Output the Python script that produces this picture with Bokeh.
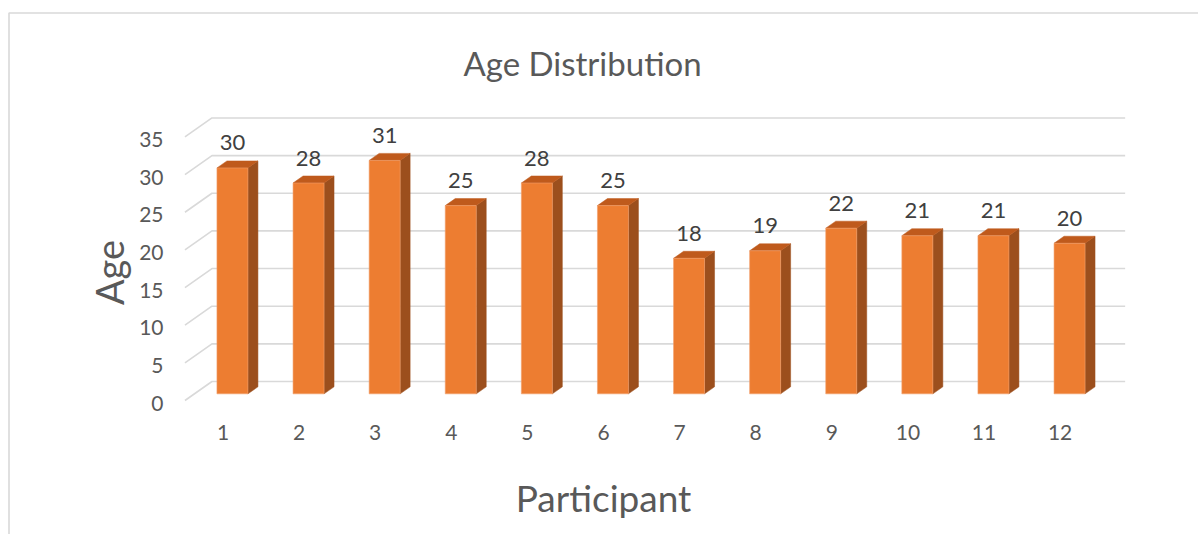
import math

from bokeh.core.properties import value
from bokeh.embed import file_html
from bokeh.models import Range1d
from bokeh.plotting import figure
from bokeh.resources import INLINE

# ---- data ----
participants = [1, 2, 3, 4, 5, 6, 7, 8, 9, 10, 11, 12]
ages = [30, 28, 31, 25, 28, 25, 18, 19, 22, 21, 21, 20]
age_ticks = [0, 5, 10, 15, 20, 25, 30, 35]
title_text = "Age Distribution"
x_title = "Participant"
y_title = "Age"

# ---- page geometry (pixels) ----
W, H = 1198, 534
X1_PX = 222.5        # screen x of participant 1 on the front edge of the floor
PX_PER_X = 76.1      # pixels per participant
Y0_PX = 400.0        # screen y of age 0 on the front edge of the floor
PX_PER_Y = 7.53      # pixels per year

FONT = value("Lato")
FRONT = "#ED7D31"
SIDE = "#9C4F1D"
TOP = "#BF5A1C"
GRID = "#D9D9D9"
TEXT = "#595959"
VALUE_TEXT = "#404040"


def px2x(px):
    return 1 + (px - X1_PX) / PX_PER_X


def py2y(py):
    return (Y0_PX - py) / PX_PER_Y


# oblique projection of the depth axis (front of floor -> back wall)
DX = 27.0 / PX_PER_X
DY = 19.0 / PX_PER_Y
Z_FRONT, Z_BACK = 0.35, 0.72   # depth slice occupied by the columns
HALF_W = 0.5 * 31.0 / PX_PER_X  # half column width

p = figure(
    width=W, height=H,
    x_range=Range1d(px2x(0), px2x(W)),
    y_range=Range1d(py2y(H), py2y(0)),
    x_axis_location=None, y_axis_location=None,
    toolbar_location=None, output_backend="svg",
    min_border=0, outline_line_color=None,
)
p.grid.visible = False
p.background_fill_color = "white"
p.border_fill_color = "white"

# chart-area border (top and left edges)
p.line([px2x(8.5), px2x(8.5), px2x(W + 2)], [py2y(H + 2), py2y(12.5), py2y(12.5)],
       line_color=GRID, line_width=1.6)

# floor categories span 0.5 .. 12.5
x_lo = participants[0] - 0.5
x_hi = participants[-1] + 0.5

# side-wall diagonals and back-wall gridlines
gx, gy = [], []
for t in age_ticks:
    gx.append([x_lo, x_lo + DX, x_hi + DX])
    gy.append([t, t + DY, t + DY])
p.multi_line(gx, gy, line_color=GRID, line_width=1.6)

# 3D columns: side, top, front faces
side_xs, side_ys, top_xs, top_ys, front_xs, front_ys = [], [], [], [], [], []
for xi, v in zip(participants, ages):
    xl = xi - HALF_W
    xr = xi + HALF_W
    fdx, fdy = Z_FRONT * DX, Z_FRONT * DY
    bdx, bdy = Z_BACK * DX, Z_BACK * DY
    side_xs.append([xr + fdx, xr + bdx, xr + bdx, xr + fdx])
    side_ys.append([fdy, bdy, v + bdy, v + fdy])
    top_xs.append([xl + fdx, xr + fdx, xr + bdx, xl + bdx])
    top_ys.append([v + fdy, v + fdy, v + bdy, v + bdy])
    front_xs.append([xl + fdx, xr + fdx, xr + fdx, xl + fdx])
    front_ys.append([fdy, fdy, v + fdy, v + fdy])

p.patches(side_xs, side_ys, fill_color=SIDE, line_color=SIDE, line_width=0.5)
p.patches(top_xs, top_ys, fill_color=TOP, line_color=TOP, line_width=0.5)
p.patches(front_xs, front_ys, fill_color=FRONT, line_color="#F2A06B", line_width=0.6)

# value labels above each column
p.text(
    x=[xi + Z_FRONT * DX for xi in participants],
    y=[v + Z_FRONT * DY + 25.0 / PX_PER_Y for v in ages],
    text=[str(v) for v in ages],
    text_font=FONT, text_font_size="22px", text_color=VALUE_TEXT,
    text_align="center", text_baseline="middle",
)

# category labels along the front edge of the floor
p.text(
    x=participants,
    y=[py2y(432)] * len(participants),
    text=[str(c) for c in participants],
    text_font=FONT, text_font_size="21px", text_color=TEXT,
    text_align="center", text_baseline="middle",
)

# value-axis labels at the front of each diagonal
p.text(
    x=[px2x(163)] * len(age_ticks),
    y=[t - 2.5 / PX_PER_Y for t in age_ticks],
    text=[str(t) for t in age_ticks],
    text_font=FONT, text_font_size="21px", text_color=TEXT,
    text_align="right", text_baseline="middle",
)

# titles
p.text(x=[px2x(582)], y=[py2y(62)], text=[title_text],
       text_font=FONT, text_font_size="33px", text_color=TEXT,
       text_align="center", text_baseline="middle")
p.text(x=[px2x(603)], y=[py2y(497)], text=[x_title],
       text_font=FONT, text_font_size="37px", text_color=TEXT,
       text_align="center", text_baseline="middle")
p.text(x=[px2x(108)], y=[py2y(272)], text=[y_title], angle=math.pi / 2,
       text_font=FONT, text_font_size="38px", text_color=TEXT,
       text_align="center", text_baseline="middle")

open("out.html", "w").write(file_html(p, INLINE))
